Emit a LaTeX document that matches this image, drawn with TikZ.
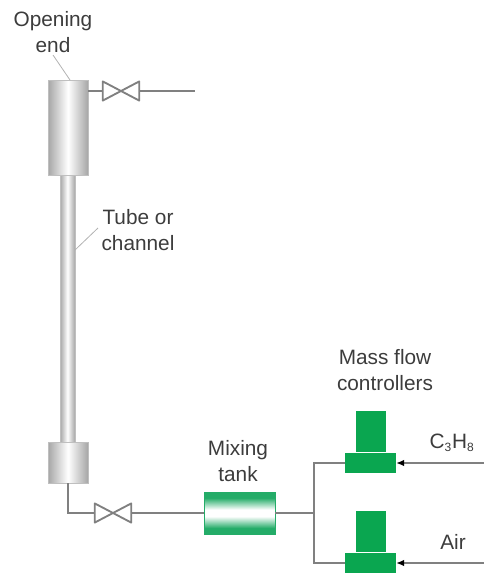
\documentclass[tikz,border=0pt]{standalone}
\usepackage{fontspec}
\usepackage{xcolor}
\usetikzlibrary{arrows.meta}
\setmainfont{Liberation Sans}
\definecolor{pipegray}{RGB}{128,128,128}
\definecolor{mfcgreen}{RGB}{10,166,80}
\definecolor{tankgreen}{RGB}{36,172,104}
\pgfdeclareverticalshading{tankshade}{100bp}{color(0bp)=(tankgreen); color(32bp)=(tankgreen); color(46bp)=(white); color(54bp)=(white); color(68bp)=(tankgreen); color(100bp)=(tankgreen)}
\definecolor{labelgray}{RGB}{60,60,60}

\begin{document}
\begin{tikzpicture}[x=0.75pt,y=-0.75pt,
  pipe/.style={draw=pipegray, line width=1.7pt},
  leader/.style={draw=gray!60, line width=0.6pt},
  label/.style={font=\fontsize{15.6}{19.5}\selectfont, text=labelgray, align=center},
  cyl/.style={draw=gray!50, line width=0.3pt, minimum width=30pt, inner sep=0pt,
    left color=gray!70, right color=gray!70, middle color=white},
  valve/.style={minimum width=27pt, minimum height=14pt, inner sep=0pt},
  mfc/.style={fill=mfcgreen, inner sep=0pt}]
\useasboundingbox (0,0) rectangle (484,575);

% Column
\node[cyl, minimum width=11.25pt, minimum height=201pt] (tube) at (67.5,308.5) {};
\node[cyl, minimum height=71.25pt] (uppercyl) at (68,127.5) {};
\node[cyl, minimum height=30.75pt] (lowercyl) at (68,462.5) {};

% Valves
\node[valve] (valvetop) at (121,91) {};
\node[valve] (valvebot) at (113,513) {};
\foreach \v in {valvetop,valvebot}
  \draw[pipegray, line width=1.4pt, line join=round] (\v.south west) -- (\v.north east) -- (\v.south east) -- (\v.north west) -- cycle;

% Mixing tank
\node[draw=tankgreen, line width=0.3pt, minimum width=53pt, minimum height=31.5pt, inner sep=0pt,
  shading=tankshade] (mixtank) at (239.5,513) {};

% Mass flow controllers
\node[mfc, minimum width=38pt, minimum height=15pt] (mfcone) at (370.5,463) {};
\node[mfc, minimum width=22.5pt, minimum height=31pt, anchor=south] (headone) at (mfcone.north) {};
\node[mfc, minimum width=38pt, minimum height=15pt] (mfctwo) at (370.5,563) {};
\node[mfc, minimum width=22.5pt, minimum height=31pt, anchor=south] (headtwo) at (mfctwo.north) {};

% Piping
\coordinate (outlet) at (195,91);
\coordinate (junction) at (314,513);
\coordinate (inletone) at (484,463);
\coordinate (inlettwo) at (484,563);
\draw[pipe] (uppercyl.east |- valvetop.west) -- (valvetop.west);
\draw[pipe] (valvetop.east) -- (outlet);
\draw[pipe] (lowercyl.south) |- (valvebot.west);
\draw[pipe] (valvebot.east) -- (mixtank.west);
\draw[pipe] (mixtank.east) -- (junction);
\draw[pipe] (junction) |- (mfcone.west);
\draw[pipe] (junction) |- (mfctwo.west);
\draw[pipe, -{Latex[black, length=6pt, width=5pt]}] (inletone) -- (mfcone.east);
\draw[pipe, -{Latex[black, length=6pt, width=5pt]}] (inlettwo) -- (mfctwo.east);

% Labels
\node[label] (openlabel) at (53,32) {Opening\\end};
\node[label] (tubelabel) at (138,230.5) {Tube or\\channel};
\node[label] (mixlabel) at (238,461) {Mixing\\tank};
\node[label] (mfclabel) at (385,370) {Mass flow\\controllers};
\node[label] (fuellabel) at (452,443) {C\textsubscript{\fontsize{9}{9}\selectfont 3}H\textsubscript{\fontsize{9}{9}\selectfont 8}};
\node[label] (airlabel) at (453,542) {Air};
\coordinate (opentip) at (70,80);
\coordinate (tubetip) at (75,250);
\draw[leader] (53,55) -- (opentip);
\draw[leader] (98,228) -- (tubetip);
\end{tikzpicture}
\end{document}
